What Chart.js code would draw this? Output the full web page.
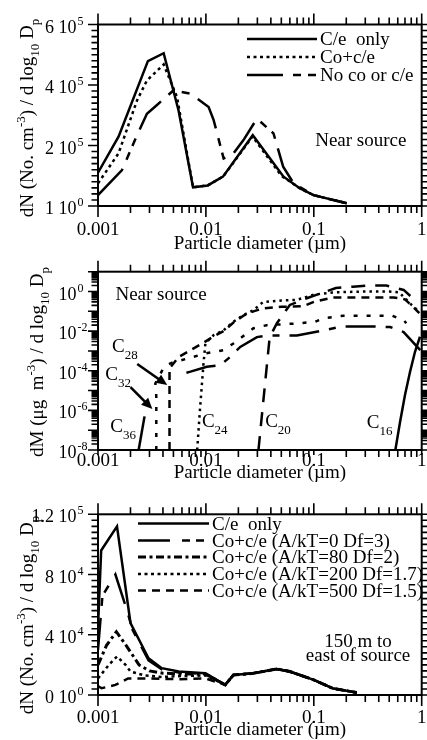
<!DOCTYPE html>
<html><head><meta charset="utf-8">
<script src="https://cdn.jsdelivr.net/npm/chart.js@4.4.0/dist/chart.umd.min.js"></script>
<style>
html,body{margin:0;padding:0;background:#fff;}
body{width:427px;height:740px;position:relative;overflow:hidden}
canvas{position:absolute;left:0}
</style></head><body>
<canvas id="c1" width="427" height="262" style="top:0px"></canvas>
<canvas id="c2" width="427" height="240" style="top:250px"></canvas>
<canvas id="c3" width="427" height="255" style="top:485px"></canvas>
<script>
// ================= DATA =================
// shared x axis (particle diameter, µm)
const xTickVals = [0.001, 0.01, 0.1, 1];
const xTickLabels = ['0.001', '0.01', '0.1', '1'];

// ---- Panel 1 : number distribution near source ----
const p1_ceX = [0.001, 0.00155, 0.0029, 0.00406, 0.00558, 0.0076, 0.0104, 0.0144, 0.0272, 0.0524, 0.0746, 0.0993, 0.202];
const p1_ceY = [1.1e5, 2.29e5, 4.79e5, 5.05e5, 3.16e5, 0.62e5, 0.68e5, 0.97e5, 2.34e5, 0.97e5, 0.58e5, 0.36e5, 0.09e5];
const p1_coX = [0.001, 0.00155, 0.0023, 0.00284, 0.00406, 0.0054, 0.0076, 0.0104, 0.0144, 0.0195, 0.027, 0.05, 0.0746, 0.0993, 0.202];
const p1_coY = [0.75e5, 1.74e5, 3.49e5, 4.15e5, 4.68e5, 3.6e5, 0.62e5, 0.68e5, 0.97e5, 1.6e5, 2.3e5, 1.0e5, 0.58e5, 0.36e5, 0.09e5];
const p1_noX = [0.001, 0.00167, 0.0023, 0.00284, 0.0035, 0.005, 0.0072, 0.0106, 0.0118, 0.0146, 0.018, 0.0223, 0.0297, 0.0423, 0.052, 0.065, 0.0993, 0.202];
const p1_noY = [0.36e5, 1.19e5, 2.34e5, 3.05e5, 3.33e5, 3.82e5, 3.71e5, 3.27e5, 2.84e5, 1.57e5, 1.74e5, 2.18e5, 2.89e5, 2.4e5, 1.3e5, 0.75e5, 0.36e5, 0.09e5];
const p1_yTickVals = [0, 2e5, 4e5, 6e5];
const p1_yTickBase = ['1 10', '2 10', '4 10', '6 10'];
const p1_yTickExp = ['0', '5', '5', '5'];

// ---- Panel 2 : mass distribution of alkanes near source ----
const p2_c16X = [0.57, 0.63, 0.70, 0.78, 0.867, 0.964];
const p2_c16Y = [1e-8, 2.6e-7, 5.9e-6, 8.9e-5, 9.1e-4, 5.2e-3];
const p2_c20X = [0.0307, 0.039, 0.0455, 0.06, 0.09, 0.16, 0.23, 0.32, 0.47, 0.68, 0.9];
const p2_c20Y = [1e-8, 5e-3, 0.025, 0.21, 0.5, 1.5, 1.75, 2.0, 2.0, 1.2, 0.3];
const p2_c24X = [0.0083, 0.0088, 0.0095, 0.0099, 0.0118, 0.0146, 0.018, 0.0223, 0.0276, 0.034, 0.05, 0.07, 0.1, 0.15, 0.3, 0.5, 0.62, 0.78, 0.9];
const p2_c24Y = [1e-8, 1e-6, 2.3e-4, 2.5e-3, 6.3e-3, 0.011, 0.03, 0.065, 0.115, 0.3, 0.35, 0.38, 0.7, 0.9, 1.0, 1.0, 0.9, 0.25, 0.12];
const p2_c28X = [0.0046, 0.0046, 0.0056, 0.0072, 0.0095, 0.0118, 0.0146, 0.018, 0.0223, 0.0276, 0.034, 0.05, 0.08, 0.1, 0.15, 0.3, 0.55, 0.7, 0.85, 0.95];
const p2_c28Y = [1e-8, 1.3e-4, 5e-4, 1.1e-3, 2.6e-3, 5.5e-3, 0.01, 0.027, 0.06, 0.1, 0.14, 0.17, 0.18, 0.3, 0.5, 0.5, 0.5, 0.4, 0.15, 0.08];
const p2_c32X = [0.00347, 0.00347, 0.0034, 0.0041, 0.0048, 0.0066, 0.0099, 0.0146, 0.018, 0.0216, 0.0276, 0.0366, 0.075, 0.103, 0.122, 0.188, 0.53, 0.68, 0.72];
const p2_c32Y = [1e-8, 5e-6, 2.3e-5, 1.6e-4, 2.5e-4, 4e-4, 7.5e-4, 1.1e-3, 2.4e-3, 5e-3, 0.014, 0.02, 0.025, 0.03, 0.044, 0.06, 0.06, 0.036, 0.025];
const p2_c36aX = [0.00238, 0.0027];
const p2_c36aY = [1e-8, 5e-7];
const p2_c36bX = [0.0066, 0.0072, 0.0102, 0.0136, 0.0168, 0.0208, 0.0297, 0.0366, 0.0697, 0.103, 0.114, 0.181, 0.37, 0.51, 0.68, 0.97];
const p2_c36bY = [8e-5, 9e-5, 1.6e-4, 1.9e-4, 5e-4, 1.6e-3, 5e-3, 6e-3, 6e-3, 9e-3, 0.01, 0.017, 0.017, 0.016, 9e-3, 1.1e-3];
const p2_yTickVals = [1e-8, 1e-6, 1e-4, 1e-2, 1];
const p2_yTickBase = ['10', '10', '10', '10', '10'];
const p2_yTickExp = ['-8', '-6', '-4', '-2', '0'];
const p2_labels = ['28', '32', '36', '24', '20', '16'];

// ---- Panel 3 : number distribution 150 m east of source ----
const p3_ceX = [0.001, 0.00107, 0.0015, 0.002, 0.00294, 0.0039, 0.0056, 0.0099, 0.0151, 0.018, 0.0275, 0.045, 0.06, 0.1, 0.15, 0.25];
const p3_ceY = [4.5e4, 9.6e4, 1.12e5, 4.78e4, 2.44e4, 1.78e4, 1.56e4, 1.44e4, 6.7e3, 1.33e4, 1.44e4, 1.73e4, 1.56e4, 1.0e4, 4.4e3, 1.6e3];
const p3_a0X = [0.001, 0.0011, 0.00145, 0.00186, 0.0021, 0.00294, 0.0039, 0.0056, 0.0099, 0.0151, 0.018, 0.0275, 0.045, 0.06, 0.1, 0.15, 0.25];
const p3_a0Y = [3.0e4, 6.6e4, 8.0e4, 5.6e4, 4.3e4, 2.3e4, 1.7e4, 1.5e4, 1.4e4, 6.7e3, 1.33e4, 1.44e4, 1.73e4, 1.56e4, 1.0e4, 4.4e3, 1.6e3];
const p3_a80X = [0.001, 0.0012, 0.00148, 0.00186, 0.0024, 0.003, 0.004, 0.0056, 0.0099, 0.0151, 0.018, 0.0275, 0.045, 0.06, 0.1, 0.15, 0.25];
const p3_a80Y = [2.0e4, 3.3e4, 4.2e4, 3.2e4, 2.0e4, 1.6e4, 1.45e4, 1.4e4, 1.4e4, 6.7e3, 1.33e4, 1.44e4, 1.73e4, 1.56e4, 1.0e4, 4.4e3, 1.6e3];
const p3_a200X = [0.001, 0.00126, 0.0015, 0.0018, 0.002, 0.0027, 0.0039, 0.0056, 0.0099, 0.0151, 0.018, 0.0275, 0.045, 0.06, 0.1, 0.15, 0.25];
const p3_a200Y = [1.1e4, 2.0e4, 2.56e4, 2.0e4, 1.56e4, 1.3e4, 1.2e4, 1.25e4, 1.3e4, 6.7e3, 1.33e4, 1.44e4, 1.73e4, 1.56e4, 1.0e4, 4.4e3, 1.6e3];
const p3_a500X = [0.001, 0.00108, 0.00145, 0.0019, 0.0027, 0.0056, 0.0099, 0.0151, 0.018, 0.0275, 0.045, 0.06, 0.1, 0.15, 0.25];
const p3_a500Y = [6.0e3, 4.5e3, 6.7e3, 1.1e4, 1.1e4, 1.05e4, 1.1e4, 6.7e3, 1.33e4, 1.44e4, 1.73e4, 1.56e4, 1.0e4, 4.4e3, 1.6e3];
const p3_yTickVals = [0, 4e4, 8e4, 1.2e5];
const p3_yTickBase = ['0 10', '4 10', '8 10', '1.2 10'];
const p3_yTickExp = ['0', '4', '4', '5'];

// ================= DRAWING =================
const SERIF = '"Liberation Serif","Times New Roman",Times,serif';
const fnt = s => s + 'px ' + SERIF;

function richW(ctx, parts, size) {
  let w = 0;
  for (const p of parts) { ctx.font = fnt(p.s ? Math.round(size * 0.68) : size); w += ctx.measureText(p.t).width; }
  return w;
}
function richDraw(ctx, parts, x, y, size) {
  let cx = x; ctx.textAlign = 'left'; ctx.textBaseline = 'alphabetic';
  for (const p of parts) {
    const sz = p.s ? Math.round(size * 0.68) : size;
    ctx.font = fnt(sz);
    const dy = p.s === 1 ? -size * 0.42 : (p.s === -1 ? size * 0.3 : 0);
    ctx.fillText(p.t, cx, y + dy);
    cx += ctx.measureText(p.t).width;
  }
}
function arrow(ctx, x1, y1, x2, y2) {
  const ang = Math.atan2(y2 - y1, x2 - x1), hl = 11, hw = 5;
  ctx.setLineDash([]); ctx.lineWidth = 2.6;
  ctx.beginPath(); ctx.moveTo(x1, y1);
  ctx.lineTo(x2 - hl * 0.8 * Math.cos(ang), y2 - hl * 0.8 * Math.sin(ang)); ctx.stroke();
  ctx.beginPath(); ctx.moveTo(x2, y2);
  ctx.lineTo(x2 - hl * Math.cos(ang) + hw * Math.sin(ang), y2 - hl * Math.sin(ang) - hw * Math.cos(ang));
  ctx.lineTo(x2 - hl * Math.cos(ang) - hw * Math.sin(ang), y2 - hl * Math.sin(ang) + hw * Math.cos(ang));
  ctx.closePath(); ctx.fill();
}
function legendRow(ctx, x0, x1, y, dash, w, text) {
  ctx.save(); ctx.lineWidth = w; ctx.setLineDash(dash); ctx.beginPath();
  ctx.moveTo(x0, y); ctx.lineTo(x1, y); ctx.stroke(); ctx.restore();
  ctx.font = fnt(19); ctx.textAlign = 'left'; ctx.textBaseline = 'alphabetic';
  ctx.fillText(text, x1 + 3, y + 6);
}

function drawDeco(chart, o) {
  const ctx = chart.ctx, a = chart.chartArea, xs = chart.scales.x, ys = chart.scales.y;
  ctx.save();
  ctx.strokeStyle = '#000'; ctx.fillStyle = '#000'; ctx.setLineDash([]);
  // x ticks (bottom + top)
  ctx.lineWidth = 1.6; ctx.beginPath();
  for (let i = 0; i < xTickVals.length; i++) {
    const ks = i < xTickVals.length - 1 ? [1, 2, 3, 4, 5, 6, 7, 8, 9] : [1];
    for (const k of ks) {
      const px = xs.getPixelForValue(xTickVals[i] * k);
      const L = k === 1 ? 11 : 7;
      const Lb = k === 1 ? o.xBotMajor : 7;
      ctx.moveTo(px, a.bottom); ctx.lineTo(px, a.bottom + Lb);
      ctx.moveTo(px, a.top); ctx.lineTo(px, a.top - L);
    }
  }
  // y ticks (left + right)
  for (const t of o.yTicks) {
    const py = ys.getPixelForValue(t.v);
    const L = t.major ? 10 : 6.5;
    ctx.moveTo(a.left, py); ctx.lineTo(a.left - L, py);
    ctx.moveTo(a.right, py); ctx.lineTo(a.right + L, py);
  }
  ctx.stroke();
  // frame
  ctx.lineWidth = 2;
  ctx.strokeRect(a.left, a.top, a.right - a.left, a.bottom - a.top);
  // x tick labels
  ctx.font = fnt(19); ctx.textAlign = 'center'; ctx.textBaseline = 'alphabetic';
  xTickVals.forEach((v, i) => ctx.fillText(xTickLabels[i], xs.getPixelForValue(v), a.bottom + o.xLabDy));
  // x title
  ctx.font = fnt(19);
  ctx.fillText('Particle diameter (\u00b5m)', (a.left + a.right) / 2, a.bottom + o.xTitleDy);
  // y tick labels
  o.yVals.forEach((v, i) => {
    const py = ys.getPixelForValue(v);
    ctx.font = fnt(18); ctx.textAlign = 'right';
    ctx.fillText(o.yBase[i], 76.5, py + 8);
    ctx.font = fnt(12); ctx.textAlign = 'left';
    ctx.fillText(o.yExp[i], 77.5, py);
  });
  // y title (rotated)
  ctx.save();
  ctx.translate(o.yTitleX, o.yTitleCY - o.top);
  ctx.rotate(-Math.PI / 2);
  const w = richW(ctx, o.yTitle, 19);
  richDraw(ctx, o.yTitle, -w / 2, 0, 19);
  ctx.restore();
  if (o.extra) o.extra(ctx, chart, xs, ys, a);
  ctx.restore();
}

function makePanel(o) {
  const canvas = document.getElementById(o.id);
  const H = canvas.height, W = canvas.width;
  const pad = { left: o.area.left, right: W - o.area.right, top: o.area.top - o.top, bottom: o.top + H - o.area.bottom };
  new Chart(canvas, {
    type: 'scatter',
    data: {
      datasets: o.series.map(s => ({
        label: s.label,
        data: s.x.map((x, i) => ({ x: x, y: s.y[i] })),
        showLine: true, borderColor: '#000', backgroundColor: '#000',
        borderWidth: s.w || 2.5, borderDash: s.dash || [], borderCapStyle: 'butt',
        pointRadius: 0, pointHoverRadius: 0, tension: 0, fill: false
      }))
    },
    options: {
      responsive: false, animation: false, events: [],
      layout: { padding: pad },
      plugins: { legend: { display: false }, tooltip: { enabled: false } },
      scales: {
        x: { type: 'logarithmic', min: 0.001, max: 1, display: false },
        y: Object.assign({ display: false }, o.yScale)
      }
    },
    plugins: [{ id: 'deco' + o.id, afterDraw: (chart) => drawDeco(chart, o) }]
  });
}

// ---- styles ----
const DOT = [3, 3.5];
const NOCO = [36, 10, 8, 7, 8, 10];
const A0 = [32, 12, 8, 6, 8, 12];
const A80 = [8, 3.5, 3, 3.5];
const DASH = [8, 6];

function linTicks(step, n, majorEvery) { const t = []; for (let i = 0; i <= n; i++) t.push({ v: i * step, major: i % majorEvery === 0 }); return t; }
function logTicks(lo, hi) { const t = []; for (let n = lo; n < hi; n++) for (let k = 1; k <= 9; k++) t.push({ v: k * Math.pow(10, n), major: k === 1 }); t.push({ v: Math.pow(10, hi), major: true }); return t; }

// Panel 1
makePanel({
  id: 'c1', top: 0, area: { left: 98, right: 421.7, top: 24.5, bottom: 206 },
  yScale: { type: 'linear', min: 0, max: 6e5 },
  yTicks: linTicks(2e4, 30, 10),
  yVals: p1_yTickVals, yBase: p1_yTickBase, yExp: p1_yTickExp,
  xBotMajor: 11, xLabDy: 29, xTitleDy: 43,
  yTitleX: 33, yTitleCY: 118,
  yTitle: [{ t: 'dN (No. cm' }, { t: '-3', s: 1 }, { t: ') / d log' }, { t: '10', s: -1 }, { t: ' D' }, { t: 'p', s: -1 }],
  series: [
    { label: 'C/e only', x: p1_ceX, y: p1_ceY },
    { label: 'Co+c/e', x: p1_coX, y: p1_coY, dash: DOT },
    { label: 'No co or c/e', x: p1_noX, y: p1_noY, dash: NOCO }
  ],
  extra: (ctx, chart, xs, ys, a) => {
    legendRow(ctx, 247, 317, 39, [], 2.5, 'C/e  only');
    legendRow(ctx, 247, 317, 57, DOT, 2.5, 'Co+c/e');
    legendRow(ctx, 247, 317, 75, NOCO, 2.5, 'No co or c/e');
    ctx.font = fnt(19); ctx.textAlign = 'left';
    ctx.fillText('Near source', xs.getPixelForValue(0.103), ys.getPixelForValue(1.98e5));
  }
});

// Panel 2
makePanel({
  id: 'c2', top: 250, area: { left: 98, right: 421.7, top: 271.7, bottom: 450 },
  yScale: { type: 'logarithmic', min: 1e-8, max: 10 },
  yTicks: logTicks(-8, 1),
  yVals: p2_yTickVals, yBase: p2_yTickBase, yExp: p2_yTickExp,
  xBotMajor: 5, xLabDy: 16, xTitleDy: 28,
  yTitleX: 43, yTitleCY: 362,
  yTitle: [{ t: 'dM (\u03bcg  m' }, { t: '-3', s: 1 }, { t: ') / d log' }, { t: '10', s: -1 }, { t: ' D' }, { t: 'p', s: -1 }],
  series: [
    { label: 'C16', x: p2_c16X, y: p2_c16Y },
    { label: 'C20', x: p2_c20X, y: p2_c20Y, dash: [14, 10] },
    { label: 'C24', x: p2_c24X, y: p2_c24Y, dash: [2.5, 4] },
    { label: 'C28', x: p2_c28X, y: p2_c28Y, dash: [8, 6] },
    { label: 'C32', x: p2_c32X, y: p2_c32Y, dash: [4, 9] },
    { label: 'C36', x: p2_c36aX, y: p2_c36aY },
    { label: 'C36 b', x: p2_c36bX, y: p2_c36bY, dash: [30, 10, 7, 10] }
  ],
  extra: (ctx, chart, xs, ys, a) => {
    ctx.font = fnt(19); ctx.textAlign = 'left';
    ctx.fillText('Near source', xs.getPixelForValue(1.45e-3), ys.getPixelForValue(0.37));
    const lx = [1.35e-3, 1.17e-3, 1.3e-3, 9.18e-3, 0.0354, 0.31];
    const ly = [9.1e-4, 3.4e-5, 8.3e-8, 1.48e-7, 1.45e-7, 1.28e-7];
    p2_labels.forEach((s, i) => {
      const px = xs.getPixelForValue(lx[i]), py = ys.getPixelForValue(ly[i]);
      ctx.font = fnt(19); ctx.fillText('C', px, py);
      const w = ctx.measureText('C').width;
      ctx.font = fnt(13); ctx.fillText(s, px + w, py + 7);
    });
    arrow(ctx, xs.getPixelForValue(2.31e-3), ys.getPixelForValue(2.2e-4), xs.getPixelForValue(4.38e-3), ys.getPixelForValue(1.9e-5));
    arrow(ctx, xs.getPixelForValue(2.0e-3), ys.getPixelForValue(1.5e-5), xs.getPixelForValue(3.19e-3), ys.getPixelForValue(1.17e-6));
  }
});

// Panel 3
makePanel({
  id: 'c3', top: 485, area: { left: 98, right: 421.7, top: 514.3, bottom: 695 },
  yScale: { type: 'linear', min: 0, max: 1.2e5 },
  yTicks: linTicks(4e3, 30, 10),
  yVals: p3_yTickVals, yBase: p3_yTickBase, yExp: p3_yTickExp,
  xBotMajor: 11, xLabDy: 28, xTitleDy: 40,
  yTitleX: 33, yTitleCY: 615,
  yTitle: [{ t: 'dN (No. cm' }, { t: '-3', s: 1 }, { t: ') / d log' }, { t: '10', s: -1 }, { t: ' D' }, { t: 'p', s: -1 }],
  series: [
    { label: 'C/e only', x: p3_ceX, y: p3_ceY },
    { label: 'A/kT=0', x: p3_a0X, y: p3_a0Y, dash: A0 },
    { label: 'A/kT=80', x: p3_a80X, y: p3_a80Y, dash: A80, w: 3 },
    { label: 'A/kT=200', x: p3_a200X, y: p3_a200Y, dash: DOT },
    { label: 'A/kT=500', x: p3_a500X, y: p3_a500Y, dash: DASH }
  ],
  extra: (ctx, chart, xs, ys, a) => {
    legendRow(ctx, 138, 209, 523.5 - 485, [], 2.5, 'C/e  only');
    legendRow(ctx, 138, 209, 540.5 - 485, A0, 2.5, 'Co+c/e (A/kT=0 Df=3)');
    legendRow(ctx, 138, 209, 557 - 485, A80, 3, 'Co+c/e (A/kT=80 Df=2)');
    legendRow(ctx, 138, 209, 574 - 485, DOT, 2.5, 'Co+c/e (A/kT=200 Df=1.7)');
    legendRow(ctx, 138, 209, 590.5 - 485, DASH, 2.5, 'Co+c/e (A/kT=500 Df=1.5)');
    ctx.font = fnt(19); ctx.textAlign = 'center';
    const cx = xs.getPixelForValue(0.257);
    ctx.fillText('150 m to', cx, ys.getPixelForValue(3.2e4));
    ctx.fillText('east of source', cx, ys.getPixelForValue(2.25e4));
  }
});
</script>
</body></html>
